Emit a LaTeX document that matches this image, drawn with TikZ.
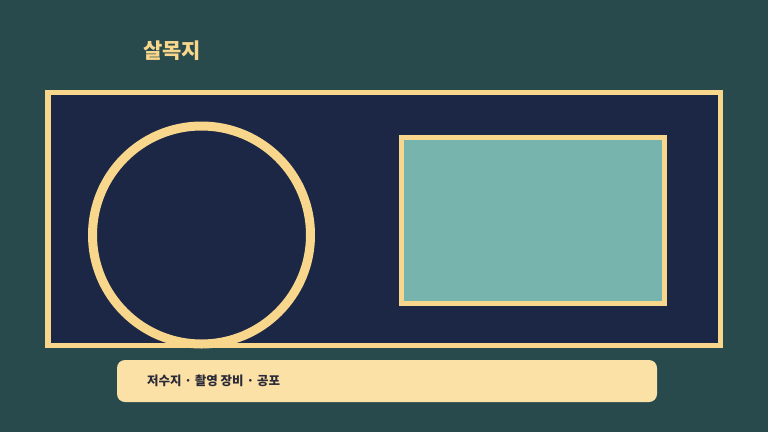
\documentclass[tikz,border=0pt]{standalone}
\usepackage{fontspec}
\setmainfont{Noto Sans CJK KR}
\definecolor{bgteal}{HTML}{284A4D}
\definecolor{navy}{HTML}{1B2745}
\definecolor{cream}{HTML}{F8D78C}
\definecolor{paper}{HTML}{FBE1A6}
\definecolor{pool}{HTML}{78B4AE}
\definecolor{ink}{HTML}{2B2A38}
\begin{document}
\begin{tikzpicture}[x=1pt,y=-1pt,
				every node/.style={inner sep=0pt,outer sep=0pt},
				frame/.style={draw=cream,fill=navy,line width=5.5pt},
				lens/.style={circle,draw=cream,line width=9pt},
				screen/.style={draw=cream,fill=pool,line width=5pt},
				caption/.style={fill=paper,rounded corners=8pt}]
\fill[bgteal] (0,0) rectangle (768,432);
\useasboundingbox (0,0) rectangle (768,432);
\node[text=cream,font=\bfseries\fontsize{21}{25}\selectfont] (title) at (172,51) {살목지};
\node[frame,minimum width=672.5pt,minimum height=253pt] (box) at (384.25,219) {};
\node[lens,minimum size=218pt] (ring) at (201.5,235) {};
\node[screen,minimum width=263pt,minimum height=166pt] (view) at (532.5,220) {};
\node[caption,minimum width=540pt,minimum height=42pt] (bar) at (387,381) {};
\node[anchor=west,text=ink,font=\bfseries\fontsize{12.5}{15}\selectfont] (tags) at ([xshift=30pt]bar.west) {저수지 · 촬영 장비 · 공포};
\end{tikzpicture}
\end{document}
